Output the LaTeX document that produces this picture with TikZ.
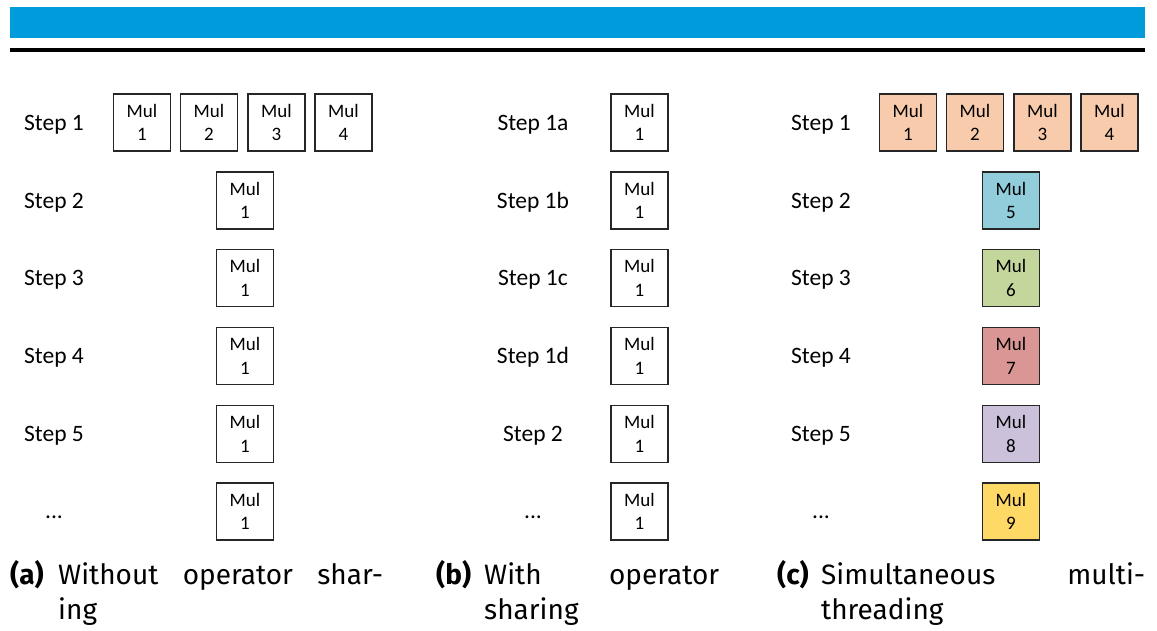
\documentclass[tikz,border=0pt]{standalone}
\usepackage{fontspec}
\setmainfont{Carlito}
\newfontfamily\capfont{Fira Sans}
\definecolor{barblue}{RGB}{0,155,219}
\definecolor{mulorange}{HTML}{F8CBAD}
\definecolor{mulblue}{HTML}{92CDDC}
\definecolor{mulgreen}{HTML}{C3D69B}
\definecolor{mulred}{HTML}{D99694}
\definecolor{mulpurple}{HTML}{CCC1DA}
\definecolor{mulyellow}{HTML}{FFD966}
\tikzset{
  mul/.style={draw=black!85, line width=1.1pt, minimum width=57pt, minimum height=57pt,
    inner sep=0pt, align=center, font=\fontsize{19}{23.5}\selectfont},
  steplabel/.style={anchor=base, inner sep=0pt, font=\fontsize{23.5}{28}\selectfont},
  captag/.style={anchor=base west, inner sep=0pt, font=\capfont\bfseries\fontsize{28}{30}\selectfont},
  captext/.style={anchor=base west, inner sep=0pt, font=\capfont\fontsize{28}{30}\selectfont},
}
\begin{document}
\begin{tikzpicture}[x=1pt,y=-1pt]
\useasboundingbox (0,0) rectangle (1157,630);
% header rules
\fill[barblue] (10,7) rectangle (1145,38);
\fill[black] (10,48) rectangle (1145,52);

% (a) without operator sharing
\node[steplabel] (a1) at (54,130) {Step 1};
\node[steplabel] (a2) at (54,208) {Step 2};
\node[steplabel] (a3) at (54,285.5) {Step 3};
\node[steplabel] (a4) at (54,363.5) {Step 4};
\node[steplabel] (a5) at (54,441.5) {Step 5};
\node[steplabel] (a6) at (54,518) {...};
\node[mul] (am1) at (142,122.5) {Mul\\1};
\node[mul] (am2) at (209,122.5) {Mul\\2};
\node[mul] (am3) at (276.5,122.5) {Mul\\3};
\node[mul] (am4) at (343.5,122.5) {Mul\\4};
\node[mul] (ab2) at (245,200.5) {Mul\\1};
\node[mul] (ab3) at (245,278) {Mul\\1};
\node[mul] (ab4) at (245,356) {Mul\\1};
\node[mul] (ab5) at (245,434) {Mul\\1};
\node[mul] (ab6) at (245,511.5) {Mul\\1};

% (b) with operator sharing
\node[steplabel] (b1) at (533,130) {Step 1a};
\node[steplabel] (b2) at (533,208) {Step 1b};
\node[steplabel] (b3) at (533,285.5) {Step 1c};
\node[steplabel] (b4) at (533,363.5) {Step 1d};
\node[steplabel] (b5) at (533,441.5) {Step 2};
\node[steplabel] (b6) at (533,518) {...};
\node[mul] (bb1) at (639.5,122.5) {Mul\\1};
\node[mul] (bb2) at (639.5,200.5) {Mul\\1};
\node[mul] (bb3) at (639.5,278) {Mul\\1};
\node[mul] (bb4) at (639.5,356) {Mul\\1};
\node[mul] (bb5) at (639.5,434) {Mul\\1};
\node[mul] (bb6) at (639.5,511.5) {Mul\\1};

% (c) simultaneous multithreading
\node[steplabel] (c1) at (821,130) {Step 1};
\node[steplabel] (c2) at (821,208) {Step 2};
\node[steplabel] (c3) at (821,285.5) {Step 3};
\node[steplabel] (c4) at (821,363.5) {Step 4};
\node[steplabel] (c5) at (821,441.5) {Step 5};
\node[steplabel] (c6) at (821,518) {...};
\node[mul, fill=mulorange] (cm1) at (908,122.5) {Mul\\1};
\node[mul, fill=mulorange] (cm2) at (975,122.5) {Mul\\2};
\node[mul, fill=mulorange] (cm3) at (1042.5,122.5) {Mul\\3};
\node[mul, fill=mulorange] (cm4) at (1109.5,122.5) {Mul\\4};
\node[mul, fill=mulblue] (cb2) at (1011,200.5) {Mul\\5};
\node[mul, fill=mulgreen] (cb3) at (1011,278) {Mul\\6};
\node[mul, fill=mulred] (cb4) at (1011,356) {Mul\\7};
\node[mul, fill=mulpurple] (cb5) at (1011,434) {Mul\\8};
\node[mul, fill=mulyellow] (cb6) at (1011,511.5) {Mul\\9};

% captions
\node[captag] (capa) at (10,584) {(a)};
\node[captext] (capa1) at (58,584) {\hbox to 325pt{Without\hfill operator\hfill shar-}};
\node[captext] (capa2) at (58,619) {ing};
\node[captag] (capb) at (436,584) {(b)};
\node[captext] (capb1) at (484,584) {\hbox to 235pt{With\hfill operator}};
\node[captext] (capb2) at (484,619) {sharing};
\node[captag] (capc) at (777,584) {(c)};
\node[captext] (capc1) at (821,584) {\hbox to 324pt{Simultaneous\hfill multi-}};
\node[captext] (capc2) at (821,619) {threading};
\end{tikzpicture}
\end{document}
